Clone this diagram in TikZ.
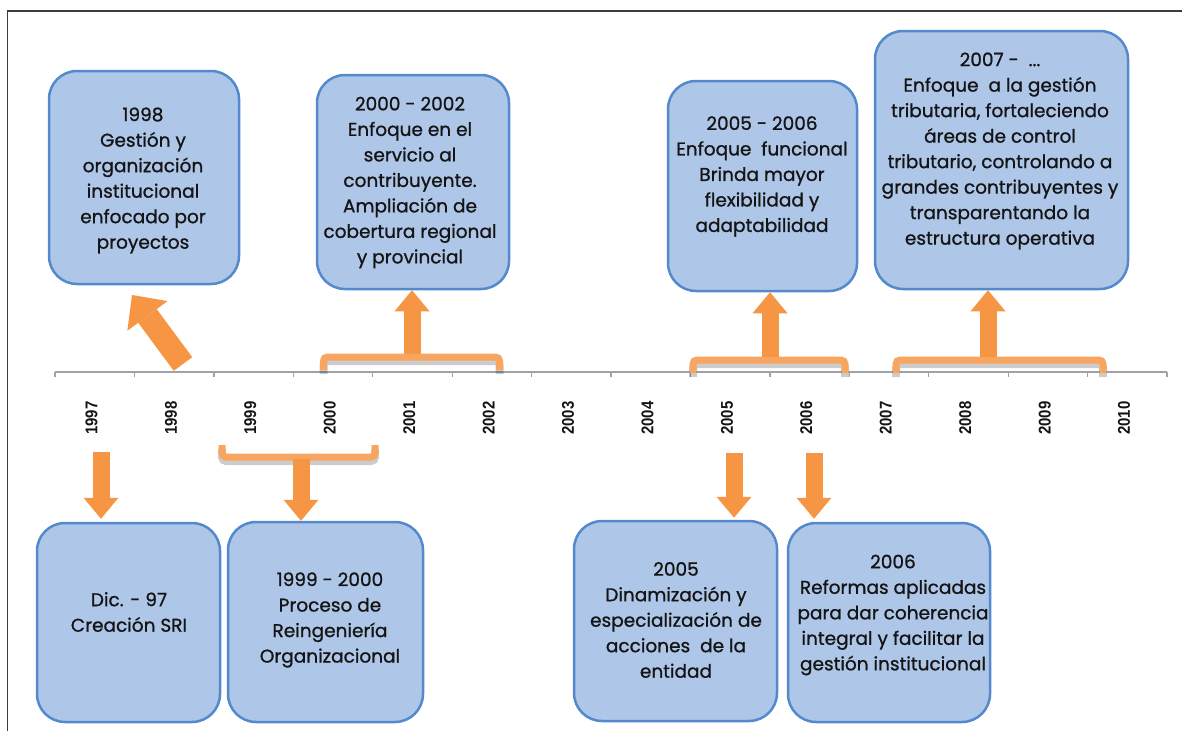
\documentclass[tikz,border=0pt]{standalone}
\usepackage{fontspec}
\setmainfont{Poppins}[FakeBold=0.9]
\newfontfamily\yearfont{Liberation Sans}
\usetikzlibrary{arrows.meta}
\definecolor{boxfill}{RGB}{174,198,232}
\definecolor{boxline}{RGB}{84,138,204}
\definecolor{arr}{RGB}{246,150,68}
\definecolor{brk}{RGB}{247,165,95}
\definecolor{axisc}{RGB}{160,162,170}
\definecolor{framec}{RGB}{60,60,60}
\definecolor{txtc}{RGB}{20,20,20}
\newcommand\mybrackets[1]{%
  \draw[#1] (323.5,370) -- (323.5,357) -- (499.5,357) -- (499.5,370);
  \draw[#1] (693,373) -- (693,360) -- (845,360) -- (845,373);
  \draw[#1] (896,373) -- (896,360) -- (1103,360) -- (1103,373);
  \draw[#1] (222,445) -- (222,457) -- (375,457) -- (375,445);
}
\begin{document}
\begin{tikzpicture}[x=1pt,y=-1pt,
  box/.style={draw=boxline, fill=boxfill, line width=2.5pt, rounded corners=28pt, inner sep=0pt},
  txt/.style={align=center, font=\fontsize{18.5}{25.5}\selectfont, text=txtc, inner sep=0pt},
  yr/.style={rotate=90, anchor=west, font=\yearfont\bfseries\fontsize{17}{17}\selectfont, text=txtc, inner sep=0pt},
  upar/.style={draw=arr, line width=17pt, -{Triangle[width=35pt,length=21pt,line width=0pt]}},
  bigar/.style={draw=arr, line width=23pt, -{Triangle[width=50pt,length=26pt,line width=0pt]}},
  brack/.style={draw=brk, line width=7pt, rounded corners=4pt},
  shad/.style={draw=black, line width=8pt, rounded corners=4pt, opacity=0.2}
]
\useasboundingbox (0,0) rectangle (1182,731);
% frame
\draw[framec, line width=1.5pt] (7.5,731) -- (7.5,11) -- (1182,11);

% timeline
\draw[axisc, line width=1.3pt] (55,372) -- (1167,372);
\foreach \i in {0,...,14} \draw[axisc, line width=1.3pt] (55+79.43*\i,372) -- ++(0,5);
\foreach \y [count=\i from 0] in {1997,...,2010}
  \node[yr] (y\y) at (55+79.43*\i+36.5,435) {\scalebox{0.88}[1]{\y}};

% boxes
\node[box, minimum width=190pt, minimum height=213pt] (b1) at (144,177.5) {};
\node[box, minimum width=192pt, minimum height=214pt] (b2) at (413,182) {};
\node[box, minimum width=189pt, minimum height=210pt] (b3) at (762.5,186) {};
\node[box, minimum width=253pt, minimum height=258pt] (b4) at (1001.5,160) {};
\node[box, minimum width=183pt, minimum height=199pt] (b5) at (128.5,622.5) {};
\node[box, minimum width=195pt, minimum height=200pt] (b6) at (325.5,622) {};
\node[box, minimum width=203pt, minimum height=200pt] (b7) at (675.5,621) {};
\node[box, minimum width=202pt, minimum height=199pt] (b8) at (889,622.5) {};

% texts
\node[txt] (t1) at (143,180.5) {1998\\Gestión y\\organización\\institucional\\enfocado por\\proyectos};
\node[txt] (t2) at (410,182.5) {2000 - 2002\\Enfoque en el\\servicio al\\contribuyente.\\Ampliación de\\cobertura regional\\y provincial};
\node[txt] (t3) at (762,176.5) {2005 - 2006\\Enfoque~ funcional\\Brinda mayor\\flexibilidad y\\adaptabilidad};
\node[txt] (t4) at (1000,151) {2007 -~ ...\\Enfoque~ a la gestión\\tributaria, fortaleciendo\\áreas de control\\tributario, controlando a\\grandes contribuyentes y\\transparentando la\\estructura operativa};
\node[txt] (t5) at (129,612) {Dic. - 97\\Creación SRI};
\node[txt] (t6) at (330,620) {1999 - 2000\\Proceso de\\Reingeniería\\Organizacional};
\node[txt] (t7) at (676,620) {2005\\Dinamización y\\especialización de\\acciones~ de la\\entidad};
\node[txt] (t8) at (893,615) {2006\\Reformas aplicadas\\para dar coherencia\\integral y facilitar la\\gestión institucional};

% brackets (shadow then bracket)
\begin{scope}[yshift=-4pt]
  \mybrackets{shad}
\end{scope}
\mybrackets{brack}
\coordinate (k1) at (412,354);
\coordinate (k2) at (770,357);
\coordinate (k3) at (988,357);
\coordinate (k4) at (301,459);

% arrows
\coordinate (d0) at (183,364);
\coordinate (d1) at (132,295);
\draw[bigar] (d0) -- (d1);
\draw[upar] (k1) -- (k1 |- b2.south);
\draw[upar] (k2) -- (k2 |- b3.south);
\draw[upar] (k3) -- (k3 |- b4.south);
\coordinate (a97) at (101,452);
\coordinate (a05) at (734,453);
\coordinate (a06) at (814,453);
\draw[upar, shorten >=3pt] (a97) -- (a97 |- b5.north);
\draw[upar] (k4) -- (k4 |- b6.north);
\draw[upar, shorten >=2pt] (a05) -- (a05 |- b7.north);
\draw[upar, shorten >=3pt] (a06) -- (a06 |- b8.north);
\end{tikzpicture}
\end{document}
